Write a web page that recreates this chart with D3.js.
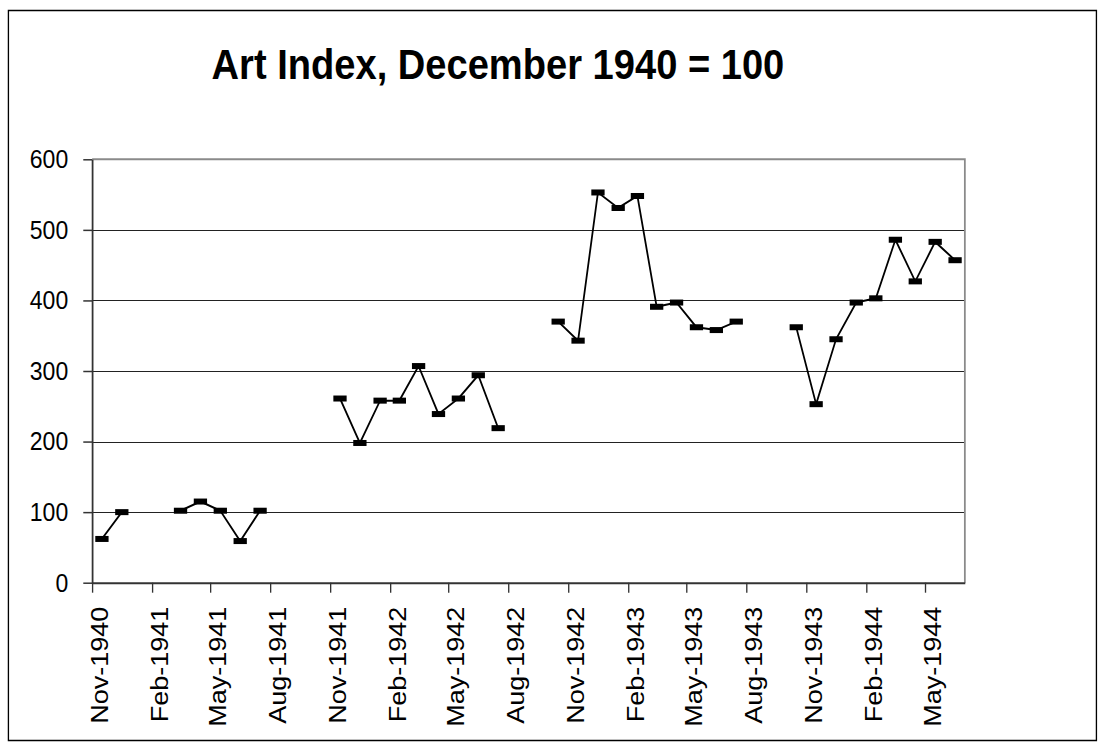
<!DOCTYPE html>
<html>
<head>
<meta charset="utf-8">
<script src="https://cdn.jsdelivr.net/npm/d3@7"></script>
<style>
  html, body { margin: 0; padding: 0; background: #fff; }
  svg { display: block; font-family: "Liberation Sans", Arial, sans-serif; }
</style>
</head>
<body>
<div id="chart"></div>
<script>
// months (categories) and index values, gaps are null
var months = [
  "1940-11","1940-12","1941-01","1941-02","1941-03","1941-04","1941-05","1941-06","1941-07","1941-08","1941-09","1941-10",
  "1941-11","1941-12","1942-01","1942-02","1942-03","1942-04","1942-05","1942-06","1942-07","1942-08","1942-09","1942-10",
  "1942-11","1942-12","1943-01","1943-02","1943-03","1943-04","1943-05","1943-06","1943-07","1943-08","1943-09","1943-10",
  "1943-11","1943-12","1944-01","1944-02","1944-03","1944-04","1944-05","1944-06"
];
var artIndex = [
  62, 100, null, null, 102, 115, 102, 59, 102, null, null, null,
  261, 198, 258, 258, 307, 239, 261, 294, 219, null, null, 370,
  343, 553, 531, 548, 391, 397, 362, 358, 370, null, null, 362,
  253, 345, 397, 403, 486, 427, 483, 457
];
var xTickLabels = ["Nov-1940","Feb-1941","May-1941","Aug-1941","Nov-1941","Feb-1942","May-1942",
  "Aug-1942","Nov-1942","Feb-1943","May-1943","Aug-1943","Nov-1943","Feb-1944","May-1944"];
var yTicks = [0, 100, 200, 300, 400, 500, 600];
var title = "Art Index, December 1940 = 100";

var width = 1104, height = 749;
// the source picture is a wider chart squeezed to 1104px, so draw wide and scale x
var sx = 0.886;
var plot = {left: 104, right: 1089, top: 159.3, bottom: 582.7};

var parseMonth = d3.timeParse("%Y-%m");
var parseTick = d3.timeParse("%b-%Y");

var data = months.map(function(m, i) {
  var d = parseMonth(m);
  var mid = new Date((+d + +d3.timeMonth.offset(d, 1)) / 2);
  return {date: mid, value: artIndex[i]};
});

var svg = d3.select("#chart").append("svg")
  .attr("width", width)
  .attr("height", height);

var g = svg.append("g").attr("transform", "scale(" + sx + ",1)");

// chart outer frame
g.append("rect")
  .attr("x", 9.5).attr("y", 10.5)
  .attr("width", 1228).attr("height", 730)
  .attr("fill", "none")
  .attr("stroke", "#000")
  .attr("stroke-width", 1.5);

g.append("text")
  .attr("x", 562)
  .attr("y", 79)
  .attr("text-anchor", "middle")
  .attr("font-size", "43px")
  .attr("font-weight", "bold")
  .attr("fill", "#000")
  .text(title);

var x = d3.scaleTime()
  .domain([parseMonth("1940-11"), parseMonth("1944-07")])
  .range([plot.left, plot.right]);

var y = d3.scaleLinear()
  .domain([0, 600])
  .range([plot.bottom, plot.top]);

// gridlines
g.append("g")
  .selectAll("line")
  .data(yTicks.filter(function(t) { return t > 0 && t < 600; }))
  .enter().append("line")
  .attr("x1", plot.left).attr("x2", plot.right)
  .attr("y1", function(d) { return Math.round(y(d)) + 0.5; })
  .attr("y2", function(d) { return Math.round(y(d)) + 0.5; })
  .attr("stroke", "#222")
  .attr("stroke-width", 1.2);

// plot area border (top / right in grey)
g.append("path")
  .attr("d", "M" + plot.left + "," + y(600) + "H" + plot.right + "V" + y(0))
  .attr("fill", "none")
  .attr("stroke", "#8a8a8a")
  .attr("stroke-width", 2);

// y axis
var yAxis = g.append("g")
  .attr("transform", "translate(" + plot.left + ",0)")
  .call(d3.axisLeft(y).tickValues(yTicks).tickSize(10).tickSizeOuter(0).tickPadding(17));
yAxis.select(".domain").attr("stroke", "#333").attr("stroke-width", 2);
yAxis.selectAll(".tick line").attr("stroke", "#333").attr("stroke-width", 1.5);
yAxis.selectAll("text")
  .attr("font-size", "26px")
  .attr("font-family", "Liberation Sans, Arial, sans-serif")
  .attr("fill", "#000");

// x axis
var xAxis = g.append("g")
  .attr("transform", "translate(0," + plot.bottom + ")")
  .call(d3.axisBottom(x)
    .tickValues(xTickLabels.map(parseTick))
    .tickSize(10)
    .tickSizeOuter(0)
    .tickFormat(d3.timeFormat("%b-%Y")));
xAxis.select(".domain").attr("stroke", "#333").attr("stroke-width", 2);
xAxis.selectAll(".tick line").attr("stroke", "#333").attr("stroke-width", 1.5);
xAxis.selectAll("text")
  .attr("x", 0)
  .attr("y", 0)
  .attr("dy", "0.35em")
  .attr("text-anchor", "end")
  .attr("transform", "translate(8,24) rotate(-90)")
  .attr("font-size", "27px")
  .attr("font-family", "Liberation Sans, Arial, sans-serif")
  .attr("fill", "#000");

// series line with gaps
var line = d3.line()
  .defined(function(d) { return d.value !== null; })
  .x(function(d) { return x(d.date); })
  .y(function(d) { return y(d.value); });

g.append("path")
  .datum(data)
  .attr("fill", "none")
  .attr("stroke", "#000")
  .attr("stroke-width", 2)
  .attr("stroke-linejoin", "round")
  .attr("d", line);

// dash markers
g.append("g")
  .selectAll("rect")
  .data(data.filter(function(d) { return d.value !== null; }))
  .enter().append("rect")
  .attr("x", function(d) { return x(d.date) - 7.5; })
  .attr("y", function(d) { return y(d.value) - 3; })
  .attr("width", 15)
  .attr("height", 6)
  .attr("fill", "#000");
</script>
</body>
</html>
